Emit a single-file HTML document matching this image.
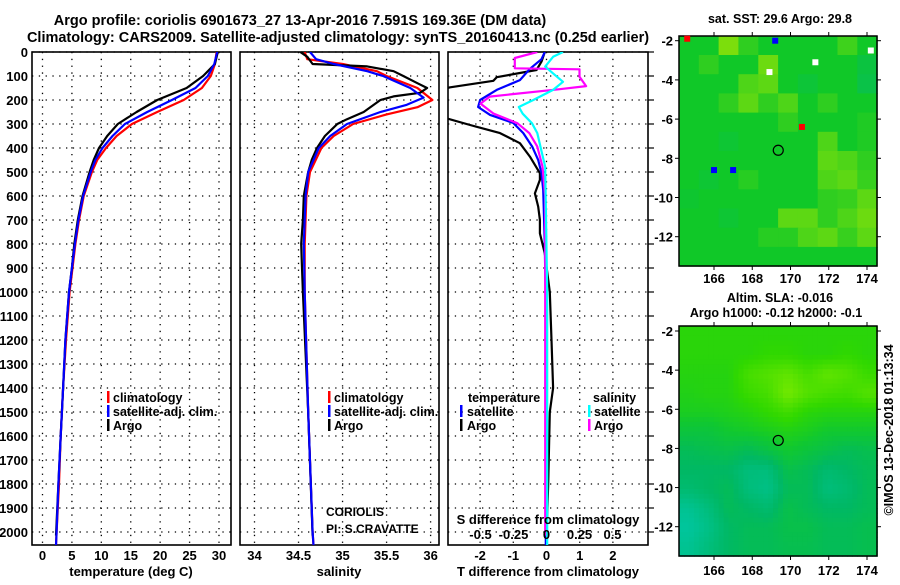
<!DOCTYPE html>
<html><head><meta charset="utf-8"><style>
html,body{margin:0;padding:0;background:#fff;}
svg text{font-family:"Liberation Sans",Arial,sans-serif;font-weight:bold;fill:#000;}
</style></head><body>
<svg id="chart" xmlns="http://www.w3.org/2000/svg" width="900" height="580" viewBox="0 0 900 580">
<rect width="900" height="580" fill="#fff"/>
<text x="300" y="25" font-size="14.5" text-anchor="middle">Argo profile: coriolis 6901673_27 13-Apr-2016 7.591S 169.36E (DM data)</text>
<text x="338" y="42" font-size="14.5" text-anchor="middle">Climatology: CARS2009. Satellite-adjusted climatology: synTS_20160413.nc (0.25d earlier)</text>
<g id="g"></g>
</svg>
<script>
// ---------- Data ----------
const depthTicks = [0,100,200,300,400,500,600,700,800,900,1000,1100,1200,1300,1400,1500,1600,1700,1800,1900,2000];
const tempTicks = [0,5,10,15,20,25,30];
const salTicks = [34,34.5,35,35.5,36];
const salTickLabels = ["34","34.5","35","35.5","36"];
const dTTicks = [-2,-1,0,1,2];
const dSTicks = [-0.5,-0.25,0,0.25,0.5];
const dSTickLabels = ["-0.5","-0.25","0","0.25","0.5"];

const tempDepth = [0,50,100,150,200,250,300,350,400,450,500,600,700,800,900,1000,1200,1400,1600,1800,2000,2055];
const tempClim  = [29.6,29.3,28.6,27.1,24.0,19.5,15.2,12.6,10.8,9.3,8.4,7.0,6.2,5.6,5.1,4.6,4.0,3.5,3.1,2.8,2.4,2.3];
const tempSat   = [29.7,29.2,28.1,26.0,22.0,17.8,14.0,11.9,10.2,9.0,8.2,6.9,6.1,5.5,5.0,4.5,3.9,3.5,3.1,2.7,2.4,2.3];
const argoDepthT = [0,50,100,150,200,250,300,350,400,450,500,600,700,800,900,1000,1200,1400,1600,1800,2015];
const tempArgo  = [29.8,29.3,27.3,24.5,19.5,16.0,12.8,11.0,9.6,8.7,8.0,6.8,6.0,5.4,5.0,4.5,3.9,3.5,3.1,2.7,2.3];

const salClimDepth = [0,30,50,80,100,150,200,230,260,300,350,400,500,600,800,1000,1500,2000,2055];
const salClim = [34.57,34.6,35.0,35.39,35.5,35.85,36.02,35.85,35.5,35.12,34.9,34.76,34.63,34.59,34.57,34.57,34.61,34.66,34.67];
const salSatDepth = [0,30,50,80,100,150,190,220,250,300,350,400,500,600,800,1000,1500,2000,2055];
const salSat = [34.63,34.7,34.9,35.28,35.46,35.77,35.92,35.73,35.43,35.05,34.86,34.73,34.61,34.58,34.56,34.57,34.61,34.66,34.67];
const salArgoDepth = [0,20,50,60,80,100,130,150,170,185,200,250,280,300,350,400,450,500,600,700,800,900,1000,1500,2015];
const salArgo = [34.52,34.6,34.66,35.28,35.58,35.69,35.85,35.96,35.88,35.58,35.43,35.24,35.05,34.94,34.8,34.71,34.65,34.61,34.56,34.55,34.53,34.54,34.55,34.61,34.66];

const dTArgoDepth = [0,40,75,105,120,147,160,265,304,338,380,436,505,533,589,644,700,756,839,1000,1200,1400,1500,1800,2015];
const dTArgo = [-0.05,-0.15,-0.3,-1.5,-1.6,-2.9,-3.3,-3.3,-2.3,-1.4,-0.8,-0.5,-0.2,-0.2,-0.35,-0.25,-0.2,-0.2,-0.05,0.1,0.15,0.2,0.1,0.05,0.0];
const dTSatDepth = [0,30,70,117,158,200,229,262,296,338,394,450,505,575,800,1000,1500,2055];
const dTSat = [-0.05,-0.15,-0.5,-0.8,-1.5,-2.0,-2.06,-1.7,-1.0,-0.7,-0.43,-0.25,-0.15,-0.1,-0.05,-0.03,-0.02,-0.02];
const dSArgoDepth = [0,25,68,72,103,142,155,186,215,257,297,338,394,478,600,1000,2015];
const dSArgo = [-0.07,-0.24,-0.24,0.25,0.25,0.3,0.1,-0.43,-0.5,-0.4,-0.22,-0.13,-0.07,-0.03,-0.01,-0.01,-0.01];
const dSSatDepth = [0,20,61,89,124,158,200,229,257,297,338,408,478,1000,2055];
const dSSat = [0.125,0.05,-0.01,0.05,0.125,0.05,-0.1,-0.21,-0.18,-0.11,-0.07,-0.04,-0.01,0.005,0.005];

const lonTicks = [166,168,170,172,174];
const latTicks = [-2,-4,-6,-8,-10,-12];
const argoLon = 169.36, argoLat = -7.591;
// SST map cells (rows lat -1.7..-13.5, cols lon 164.2..174.5), 0 teal .. 1 green .. 2 yellow-green
const sstGrid = [
[1,1,1.7,1.2,1,1,1,1,1.3,1],
[1,1.2,1,1,1.6,1,1,1,1,0.7],
[1,1,1,1.4,1.5,1,0.8,1,1,0.6],
[1,1,1.2,1.5,1.2,1.4,1,1.2,1,1],
[1,1,1,1,1,1.2,1,1,1,1.1],
[1,1,0.85,1,1,1,1,1.4,1,1.1],
[1,1,1,1,1,1,1,1.5,1.4,1.2],
[1,0.85,1,1.15,1,1,1,1.4,1.5,1.25],
[0.9,1,1,1,1,1,1,1.2,1.25,1.5],
[1,1,0.85,1,1,1.5,1.5,1.2,1.4,1.6],
[1,1,1,1,1.15,1.15,1.4,1.5,1.25,1.5],
[1,1,1,1,1,1,1,1,1,1]];
// SLA map cells, 0 cyan-teal .. 1 yellow-green
const slaGrid = [
[.62,.62,.62,.62,.62,.62,.62,.62,.62,.62],
[.62,.62,.62,.62,.65,.65,.62,.62,.65,.62],
[.6,.6,.6,.72,.76,.8,.72,.8,.76,.68],
[.58,.6,.6,.68,.72,.86,.76,.72,.7,.76],
[.55,.55,.57,.6,.65,.7,.62,.6,.6,.6],
[.45,.45,.5,.52,.55,.58,.55,.5,.5,.5],
[.35,.38,.4,.35,.42,.5,.45,.4,.35,.38],
[.3,.3,.3,.2,.2,.4,.35,.25,.3,.35],
[.25,.3,.35,.2,.15,.35,.35,.2,.25,.35],
[.1,.2,.35,.3,.25,.4,.35,.3,.3,.35],
[.05,.15,.3,.35,.35,.4,.4,.35,.35,.38],
[.1,.2,.3,.35,.35,.38,.38,.35,.35,.38]];

// ---------- Helpers ----------
const NS = "http://www.w3.org/2000/svg";
const G = document.getElementById('g');
function el(tag, attrs, parent){ const e=document.createElementNS(NS,tag); for(const k in attrs) e.setAttribute(k,attrs[k]); (parent||G).appendChild(e); return e; }
const yD = d => 52 + 0.24*d;
const xT = t => 42.5 + 5.883*t;
const xS = s => 254.5 + 88.05*(s-34);
const xdT = v => 546.5 + 33.2*v;
const xdS = v => 546.5 + 132*v;
const TOP=52, BOT=545;
const panels = [
 {id:'temp', x0:32, x1:231},
 {id:'sal', x0:240, x1:439},
 {id:'diff', x0:448, x1:648}];
const defs = el('defs',{});
panels.forEach(p=>{ const c=el('clipPath',{id:'clip-'+p.id},defs); el('rect',{x:p.x0,y:TOP,width:p.x1-p.x0,height:BOT-TOP},c); });

function frame(p, xticks, xf, labels, labelY){
  const g = el('g',{});
  
  
  depthTicks.forEach(d=>{ el('line',{x1:p.x0,x2:p.x1,y1:yD(d),y2:yD(d),stroke:'#000','stroke-width':1.3,'stroke-dasharray':'1.3 5.5'},g); });
  xticks.forEach((t,i)=>{ const x=xf(t); el('line',{x1:x,x2:x,y1:TOP,y2:BOT,stroke:'#000','stroke-width':1.3,'stroke-dasharray':'1.3 5.5'},g);
    if(labels){ const tx=el('text',{x:x,y:labelY,'font-size':13,'text-anchor':'middle'},g); tx.textContent=labels[i];
      
       } });
  el('rect',{x:p.x0,y:TOP,width:p.x1-p.x0,height:BOT-TOP,fill:'none',stroke:'#000','stroke-width':1.6},g);
  return g;
}
function line(depths, vals, xf, color, clip, name, w){
  const pts = depths.map((d,i)=>xf(vals[i]).toFixed(1)+','+yD(d).toFixed(1)).join(' ');
  const pl = el('polyline',{points:pts,fill:'none',stroke:color,'stroke-width':w||2.2,'stroke-linejoin':'round','clip-path':'url(#clip-'+clip+')'});
  
  
}
function txt(x,y,s,size,anchor,name,extra){
  const t=el('text',Object.assign({x:x,y:y,'font-size':size,'text-anchor':anchor||'start'},extra||{}));
  t.textContent=s;
  
  
  return t;
}
function bar(x,y,color,name){
  const r=el('rect',{x:x,y:y-11,width:2.5,height:12,fill:color});
  
  
}

depthTicks.forEach(d=>{ txt(28, yD(d)+5, String(d), 13, 'end', 'y-tick-label'); });

frame(panels[0], tempTicks, xT, tempTicks.map(String), 560);
frame(panels[1], salTicks, xS, salTickLabels, 560);
frame(panels[2], dTTicks, xdT, dTTicks.map(String), 560);

depthTicks.forEach(d=>{ el('line',{x1:648,x2:654,y1:yD(d),y2:yD(d),stroke:'#000','stroke-width':1.2}); });

line(tempDepth, tempClim, xT, '#f00', 'temp', 'temp-climatology-line');
line(argoDepthT, tempArgo, xT, '#000', 'temp', 'temp-argo-line');
line(tempDepth, tempSat, xT, '#00f', 'temp', 'temp-satellite-line');
line(salClimDepth, salClim, xS, '#f00', 'sal', 'sal-climatology-line');
line(salArgoDepth, salArgo, xS, '#000', 'sal', 'sal-argo-line');
line(salSatDepth, salSat, xS, '#00f', 'sal', 'sal-satellite-line');
line(dTArgoDepth, dTArgo, xdT, '#000', 'diff', 'dT-argo-line');
line(dTSatDepth, dTSat, xdT, '#00f', 'diff', 'dT-satellite-line');
line(dSArgoDepth, dSArgo, xdS, '#f0f', 'diff', 'dS-argo-line');
line(dSSatDepth, dSSat, xdS, '#0ff', 'diff', 'dS-satellite-line');

txt(131, 576, 'temperature (deg C)', 13, 'middle', 'x-axis-title-temperature');
txt(339, 576, 'salinity', 13, 'middle', 'x-axis-title-salinity');
txt(548, 576, 'T difference from climatology', 13, 'middle', 'x-axis-title-t-diff');
txt(548, 524, 'S difference from climatology', 13, 'middle', 'x-axis-title-s-diff');
dSTicks.forEach((v,i)=>{ txt(xdS(v), 539, dSTickLabels[i], 13, 'middle', 's-diff-tick-label'); });

bar(107,402,'#f00','legend-swatch-climatology'); txt(113,402,'climatology',12.5,'start','legend-climatology');
bar(107,416,'#00f','legend-swatch-satellite'); txt(113,416,'satellite-adj. clim.',12.5,'start','legend-satellite');
bar(107,430,'#000','legend-swatch-argo'); txt(113,430,'Argo',12.5,'start','legend-argo');
bar(328,402,'#f00','legend2-swatch-climatology'); txt(334,402,'climatology',12.5,'start','legend2-climatology');
bar(328,416,'#00f','legend2-swatch-satellite'); txt(334,416,'satellite-adj. clim.',12.5,'start','legend2-satellite');
bar(328,430,'#000','legend2-swatch-argo'); txt(334,430,'Argo',12.5,'start','legend2-argo');
txt(468,402,'temperature',12.5,'start','legend3-temperature-heading');
bar(460,416,'#00f','legend3-swatch-t-satellite'); txt(467,416,'satellite',12.5,'start','legend3-t-satellite');
bar(460,430,'#000','legend3-swatch-t-argo'); txt(467,430,'Argo',12.5,'start','legend3-t-argo');
txt(593,402,'salinity',12.5,'start','legend3-salinity-heading');
bar(588,416,'#0ff','legend3-swatch-s-satellite'); txt(594,416,'satellite',12.5,'start','legend3-s-satellite');
bar(588,430,'#f0f','legend3-swatch-s-argo'); txt(594,430,'Argo',12.5,'start','legend3-s-argo');
txt(326,516,'CORIOLIS',12,'start','float-operator',{'font-weight':'normal'});
txt(326,533,'PI: S.CRAVATTE',12,'start','float-pi',{'font-weight':'normal'});

// ---------- Maps ----------
const MX0=679, MX1=877;
const lonX = lon => 714 + 19.125*(lon-166);
const LON0 = 164.17, LON1 = 174.53, LAT0 = -1.75, LAT1 = -13.5;
function lerpCol(stops, v){
  for(let i=0;i<stops.length-1;i++){ const a=stops[i], b=stops[i+1];
    if(v<=b[0]){ const t=Math.max(0,(v-a[0])/(b[0]-a[0])); return 'rgb('+[1,2,3].map(k=>Math.round(a[k]+(b[k]-a[k])*t)).join(',')+')'; } }
  const l=stops[stops.length-1]; return 'rgb('+l[1]+','+l[2]+','+l[3]+')';
}
function upsample(grid, f){
  const R=grid.length, C=grid[0].length, out=[];
  for(let i=0;i<R*f;i++){ const row=[]; const y=Math.min(R-1,Math.max(0,(i+0.5)/f-0.5)); const y0=Math.floor(y), y1=Math.min(R-1,y0+1), ty=y-y0;
    for(let j=0;j<C*f;j++){ const x=Math.min(C-1,Math.max(0,(j+0.5)/f-0.5)); const x0=Math.floor(x), x1=Math.min(C-1,x0+1), tx=x-x0;
      row.push(grid[y0][x0]*(1-tx)*(1-ty)+grid[y0][x1]*tx*(1-ty)+grid[y1][x0]*(1-tx)*ty+grid[y1][x1]*tx*ty); }
    out.push(row); }
  return out;
}
const sstStops = [[0,0,184,120],[1,16,200,40],[2,170,232,0]];
const slaStops = [[0,0,200,168],[0.3,0,184,100],[0.5,16,200,48],[0.65,48,216,0],[0.85,112,232,0]];
function drawMap(name, latY, y0, y1, grid, stops, title1, title2, t1y, labelY){
  const g=el('g',{});
  
  
  const rows=grid.length, cols=grid[0].length;
  const cw=(lonX(LON1)-lonX(LON0))/cols, ch=(latY(LAT1)-latY(LAT0))/rows;
  grid.forEach((row,r)=>row.forEach((v,c)=>{
    const cell=el('rect',{x:(lonX(LON0)+c*cw).toFixed(1),y:(latY(LAT0)+r*ch).toFixed(1),width:(cw+0.6).toFixed(1),height:(ch+0.6).toFixed(1),fill:lerpCol(stops,v)},g);
    
    
  }));
  el('rect',{x:MX0,y:y0,width:MX1-MX0,height:y1-y0,fill:'none',stroke:'#000','stroke-width':1.5},g);
  const m=el('circle',{cx:lonX(argoLon),cy:latY(argoLat),r:5,fill:'none',stroke:'#000','stroke-width':1.2},g);
  
  
  lonTicks.forEach(l=>{ const x=lonX(l); el('line',{x1:x,x2:x,y1:y0,y2:y0-4,stroke:'#000'},g); el('line',{x1:x,x2:x,y1:y1,y2:y1+4,stroke:'#000'},g);
    txt(x, labelY, String(l), 13, 'middle', name+'-lon-label'); });
  latTicks.forEach(l=>{ const y=latY(l); el('line',{x1:MX0,x2:MX0-4,y1:y,y2:y,stroke:'#000'},g); el('line',{x1:MX1,x2:MX1+4,y1:y,y2:y,stroke:'#000'},g);
    txt(673, y+5, String(l), 13, 'end', name+'-lat-label'); });
  txt(780, t1y, title1, 12.5, 'middle', name+'-title');
  if(title2) txt(776, t1y+15, title2, 12.5, 'middle', name+'-subtitle');
}
drawMap('sst-map', lat=>40.7-19.6*(lat+2), 36, 266, sstGrid, sstStops, 'sat. SST: 29.6 Argo: 29.8', null, 23, 283);
drawMap('sla-map', lat=>331-19.57*(lat+2), 326, 556, upsample(slaGrid,4), slaStops, 'Altim. SLA: -0.016', 'Argo h1000: -0.12 h2000: -0.1', 302, 575);
const sstSpots = [[164.6,-1.9,'#f00'],[169.2,-2.0,'#00f'],[170.6,-6.4,'#f00'],[166.0,-8.6,'#00f'],[167.0,-8.6,'#00f'],[168.9,-3.6,'#fff'],[171.3,-3.1,'#fff'],[174.2,-2.5,'#fff']];
sstSpots.forEach(s=>{ const r=el('rect',{x:lonX(s[0])-3,y:40.7-19.6*(s[1]+2)-3,width:6,height:6,fill:s[2]});
  
   });
txt(0,0,'©IMOS 13-Dec-2018 01:13:34',12.5,'middle','timestamp-credit',{'font-weight':'normal',transform:'translate(893,430) rotate(-90)'});
</script>
</body></html>
